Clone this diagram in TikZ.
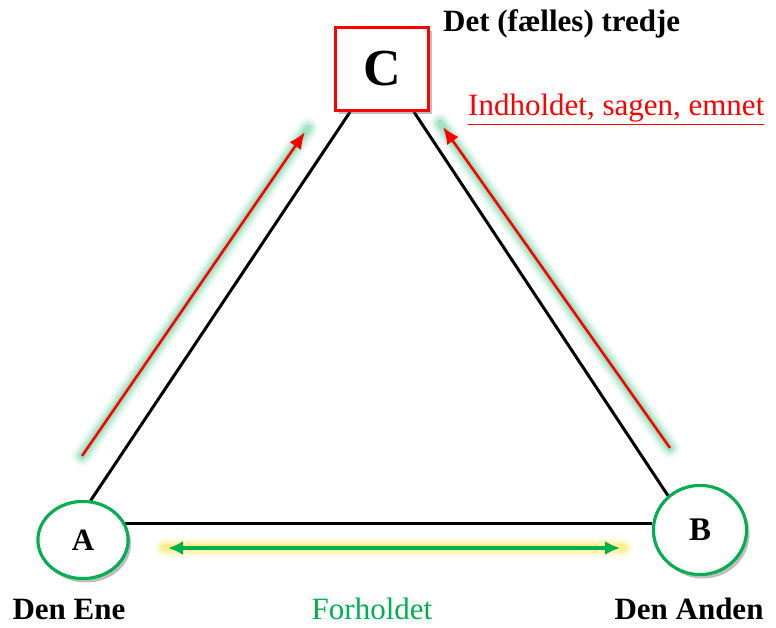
\documentclass[tikz,border=0pt]{standalone}
\usepackage{fontspec}
\setmainfont{Liberation Serif}
\usetikzlibrary{arrows.meta,shadows,calc,shapes.geometric}
\definecolor{offgreen}{RGB}{0,176,80}
\definecolor{mint}{RGB}{120,215,170}
\definecolor{glowy}{RGB}{255,230,90}
\tikzset{
  tri/.style={draw=black, line width=3pt},
  boxC/.style={draw=red, fill=white, line width=3pt, minimum width=93pt, minimum height=83pt, inner sep=0pt,
    drop shadow={shadow xshift=3pt, shadow yshift=-4pt, opacity=0.3, fill=gray}},
  circ/.style={ellipse, draw=offgreen, fill=white, line width=3pt, inner sep=0pt,
    drop shadow={shadow xshift=3pt, shadow yshift=-4pt, opacity=0.3, fill=gray}},
  redarrow/.style={draw=red, line width=2.6pt, -{Latex[length=17pt,width=14pt]}},
  greenarrow/.style={draw=offgreen, line width=3.5pt, {Latex[length=15pt,width=14pt]}-{Latex[length=15pt,width=14pt]}},
  bigtxt/.style={font=\fontsize{31}{36}\selectfont, inner sep=0pt},
}
\begin{document}
\begin{tikzpicture}[x=1pt,y=1pt]
\useasboundingbox (0,0) rectangle (776,628);
% nodes
\node[boxC] (C) at (382,559) {\fontsize{52}{56}\selectfont\bfseries C};
\node[circ, minimum width=90pt, minimum height=77pt] (A) at (83,88) {\fontsize{31}{34}\selectfont\bfseries A};
\node[circ, minimum width=93pt, minimum height=89pt] (B) at (700,98) {\fontsize{33}{36}\selectfont\bfseries B};
% triangle
\draw[tri] (A.79) -- ([xshift=-32pt]C.south);
\draw[tri] (B.133) -- ([xshift=32pt]C.south);
\draw[tri] (A.21) -- (A.21 -| B.west);
% redraw nodes on top
\node[boxC] at (C) {\fontsize{52}{56}\selectfont\bfseries C};
\node[circ, minimum width=90pt, minimum height=77pt] at (A) {\fontsize{31}{34}\selectfont\bfseries A};
\node[circ, minimum width=93pt, minimum height=89pt] at (B) {\fontsize{33}{36}\selectfont\bfseries B};
% arrow end points
\coordinate (l1) at (82,172);
\coordinate (l2) at (305,496);
\coordinate (r1) at (670,180);
\coordinate (r2) at (443,501);
\coordinate (g1) at (168,80);
\coordinate (g2) at (620,80);
% glows
\foreach \w/\o in {20/0.12,15/0.18,11/0.25,7/0.4}{
  \draw[mint, line width=\w pt, line cap=round, opacity=\o] (l1) -- ($(l2)+(3,4)$);
  \draw[mint, line width=\w pt, line cap=round, opacity=\o] (r1) -- ($(r2)+(-3,4)$);
  \draw[glowy, line width=\w pt, line cap=round, opacity=\o] ($(g1)+(-3,0)$) -- ($(g2)+(3,0)$);
}
% arrows
\draw[redarrow] (l1) -- (l2);
\draw[redarrow] (r1) -- (r2);
\draw[greenarrow] (g1) -- (g2);
% labels
\node[bigtxt, anchor=base west, font=\fontsize{31}{36}\selectfont\bfseries] (t1) at (443,596) {Det (fælles) tredje};
\node[bigtxt, anchor=base west, text=red] (t2) at (468,512) {\underline{Indholdet, sagen, emnet}};
\node[bigtxt, anchor=base, font=\fontsize{31}{36}\selectfont\bfseries] (t3) at (69,8) {Den Ene};
\node[bigtxt, anchor=base, text=offgreen] (t4) at (372,8) {Forholdet};
\node[bigtxt, anchor=base, font=\fontsize{31}{36}\selectfont\bfseries] (t5) at (689,8) {Den Anden};
\end{tikzpicture}
\end{document}
